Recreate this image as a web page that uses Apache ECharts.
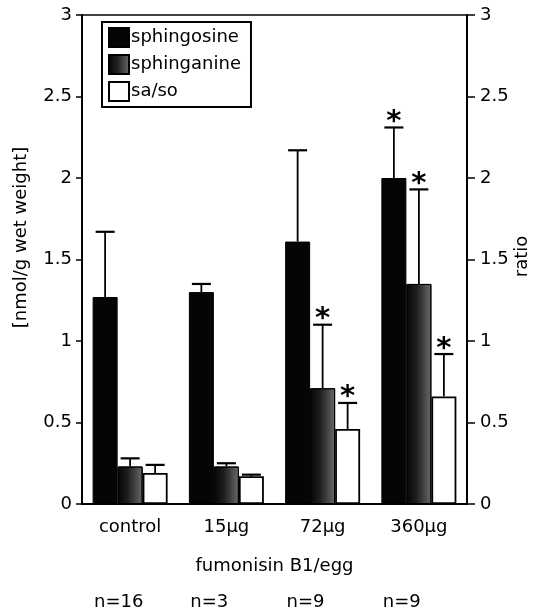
<!DOCTYPE html>
<html>
<head>
<meta charset="utf-8">
<script src="https://cdn.jsdelivr.net/npm/echarts@6/dist/echarts.min.js"></script>
<style>
  html, body { margin: 0; padding: 0; background: #fff; }
  #chart { width: 538px; height: 611px; }
</style>
</head>
<body>
<div id="chart"></div>
<script>
// data
var categories = ['control', '15μg', '72μg', '360μg'];
var nLabels = ['n=16', 'n=3', 'n=9', 'n=9'];

var sphingosine = [1.27, 1.30, 1.61, 2.00];
var sphingosineTop = [1.67, 1.35, 2.17, 2.31];
var sphinganine = [0.23, 0.23, 0.71, 1.35];
var sphinganineTop = [0.28, 0.25, 1.10, 1.93];
var saso = [0.19, 0.17, 0.46, 0.66];
var sasoTop = [0.24, 0.18, 0.62, 0.92];

// significance marks (1 = asterisk above the error bar)
var starSphingosine = [0, 0, 0, 1];
var starSphinganine = [0, 0, 1, 1];
var starSaso = [0, 0, 1, 1];

var font = 'DejaVu Sans';
var barW = 25;

var chart = echarts.init(document.getElementById('chart'));

// error bar rows: [category, series index, value, top, star]
var errData = [];
[[sphingosine, sphingosineTop, starSphingosine],
 [sphinganine, sphinganineTop, starSphinganine],
 [saso, sasoTop, starSaso]].forEach(function (s, si) {
  for (var i = 0; i < categories.length; i++) {
    errData.push([i, si, s[0][i], s[1][i], s[2][i]]);
  }
});

function renderErr(params, api) {
  var p0 = api.coord([api.value(0), api.value(2)]);
  var p1 = api.coord([api.value(0), api.value(3)]);
  var x = p0[0] + (api.value(1) - 1) * barW;
  var kids = [
    { type: 'line', shape: { x1: x, y1: p0[1], x2: x, y2: p1[1] }, style: { stroke: '#000', lineWidth: 1.8 } },
    { type: 'line', shape: { x1: x - 9.5, y1: p1[1], x2: x + 9.5, y2: p1[1] }, style: { stroke: '#000', lineWidth: 2.2 } }
  ];
  if (api.value(4)) {
    kids.push({
      type: 'text',
      style: {
        text: '*', x: x, y: p1[1] - 5,
        font: 'bold 29px ' + font, fill: '#000',
        textAlign: 'center', textVerticalAlign: 'middle'
      }
    });
  }
  return { type: 'group', children: kids };
}

var sphinganineFill = new echarts.graphic.LinearGradient(0, 0, 1, 0, [
  { offset: 0, color: '#050505' },
  { offset: 0.4, color: '#1e1e1e' },
  { offset: 1, color: '#6a6a6a' }
]);

var option = {
  animation: false,
  textStyle: { fontFamily: font, color: '#000' },
  grid: {
    left: 82, right: 71, top: 15, bottom: 107,
    outerBoundsMode: 'none', containLabel: false,
    show: true, borderColor: '#000', borderWidth: 1.5
  },
  legend: {
    orient: 'vertical',
    left: 102, top: 22,
    padding: [5, 10, 5, 6],
    itemWidth: 20, itemHeight: 19, itemGap: 6,
    borderColor: '#000', borderWidth: 2,
    textStyle: { fontFamily: font, fontSize: 18, color: '#000', padding: [0, 0, 0, -3] },
    data: [
      { name: 'sphingosine', icon: 'rect' },
      { name: 'sphinganine', icon: 'rect' },
      { name: 'sa/so', icon: 'rect' }
    ]
  },
  xAxis: {
    type: 'category',
    data: categories,
    name: 'fumonisin B1/egg',
    nameLocation: 'middle',
    nameGap: 53,
    nameTextStyle: { fontFamily: font, fontSize: 18, color: '#000' },
    axisLine: { lineStyle: { color: '#000', width: 2 } },
    axisTick: { length: 8, lineStyle: { color: '#000', width: 2 } },
    axisLabel: { fontFamily: font, fontSize: 18, color: '#000', margin: 14 }
  },
  yAxis: [{
    type: 'value',
    min: 0, max: 3, interval: 0.5,
    name: '[nmol/g wet weight]',
    nameLocation: 'middle',
    nameRotate: 90,
    nameGap: 52,
    nameTextStyle: { fontFamily: font, fontSize: 18, color: '#000', padding: [0, 0, 0, 44] },
    axisLine: { show: true, lineStyle: { color: '#000', width: 2 } },
    axisTick: { show: true, length: 6, lineStyle: { color: '#000', width: 1.5 } },
    axisLabel: { fontFamily: font, fontSize: 18, color: '#000', margin: 10 },
    splitLine: { show: false }
  }, {
    type: 'value',
    position: 'right',
    min: 0, max: 3, interval: 0.5,
    name: 'ratio',
    nameLocation: 'middle',
    nameRotate: 90,
    nameGap: 46,
    nameMoveOverlap: false,
    nameTextStyle: { fontFamily: font, fontSize: 18, color: '#000', padding: [0, 0, 0, 6] },
    axisLine: { show: true, lineStyle: { color: '#000', width: 2 } },
    axisTick: { show: true, length: 8, lineStyle: { color: '#000', width: 1.5 } },
    axisLabel: { fontFamily: font, fontSize: 18, color: '#000', margin: 13 },
    splitLine: { show: false }
  }],
  series: [{
    name: 'sphingosine', type: 'bar', data: sphingosine,
    barWidth: barW, barGap: '0%',
    itemStyle: { color: '#050505', borderColor: '#000', borderWidth: 1 }
  }, {
    name: 'sphinganine', type: 'bar', data: sphinganine,
    barWidth: barW, barGap: '0%',
    itemStyle: { color: sphinganineFill, borderColor: '#000', borderWidth: 1 }
  }, {
    name: 'sa/so', type: 'bar', data: saso,
    barWidth: barW, barGap: '0%',
    itemStyle: { color: '#fff', borderColor: '#000', borderWidth: 1.8 }
  }, {
    type: 'custom',
    data: errData,
    encode: { x: 0, y: 3 },
    renderItem: renderErr,
    z: 5,
    silent: true
  }]
};

chart.setOption(option);

// n= labels under the axis title, left aligned inside each category band
var band = chart.convertToPixel({ xAxisIndex: 0 }, 1) - chart.convertToPixel({ xAxisIndex: 0 }, 0);
chart.setOption({
  graphic: nLabels.map(function (t, i) {
    var cx = chart.convertToPixel({ xAxisIndex: 0 }, i);
    return {
      type: 'text',
      left: cx - band / 2 + 12,
      top: 593,
      style: { text: t, font: '18px ' + font, fill: '#000' }
    };
  })
});
</script>
</body>
</html>
